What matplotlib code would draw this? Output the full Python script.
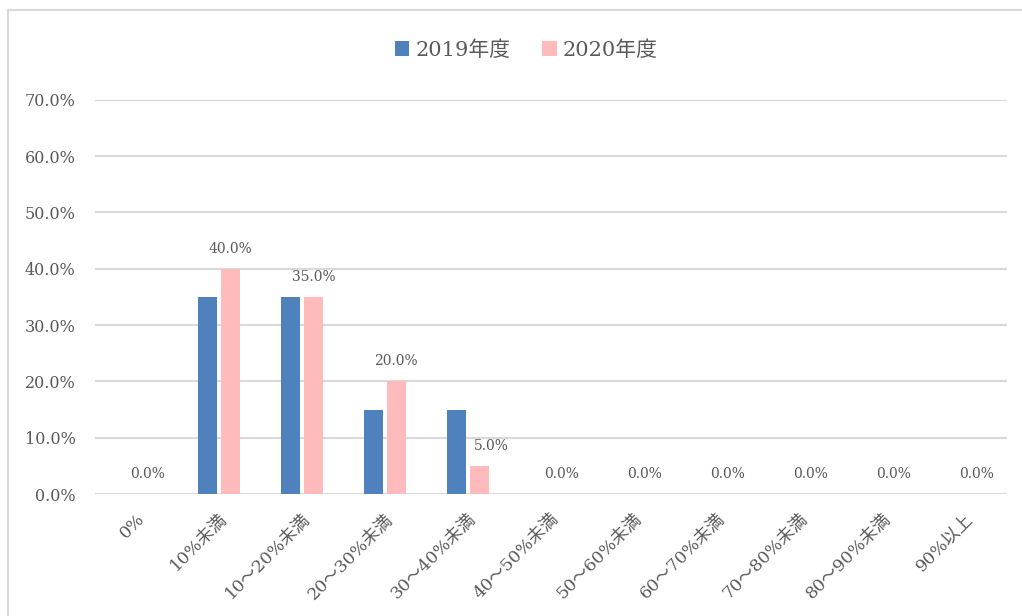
import matplotlib.pyplot as plt
import matplotlib.transforms as mtransforms
import numpy

plt.rcParams['font.family'] = ['DejaVu Serif', 'Noto Sans CJK JP']

# Data
categories = ['0%', '10%未満', '10～20%未満', '20～30%未満', '30～40%未満',
              '40～50%未満', '50～60%未満', '60～70%未満', '70～80%未満',
              '80～90%未満', '90%以上']
values_2019 = [0, 35, 35, 15, 15, 0, 0, 0, 0, 0, 0]
values_2020 = [0, 40, 35, 20, 5, 0, 0, 0, 0, 0, 0]
series_names = ['2019年度', '2020年度']
yticks = [0, 10, 20, 30, 40, 50, 60, 70]

textColor = '#595959'
gridColor = '#D9D9D9'

fig = plt.figure(figsize = (10.22, 6.16), dpi = 100)
ax = fig.add_axes([0.093, 0.198, 0.892, 0.64])

x = numpy.arange(len(categories))
width = 0.23
ax.bar(x - 0.14, values_2019, width = width, color = '#4F81BD', label = series_names[0], zorder = 3)
bars2 = ax.bar(x + 0.135, values_2020, width = width, color = '#FFBBBB', label = series_names[1], zorder = 3)

for i, (rect, v) in enumerate(zip(bars2, values_2020)):
    # label nudged right when the neighbouring 2019 bar is much taller (as Excel did)
    dx = 9 if values_2019[i] - v > 5 else 0
    ax.annotate('{:.1f}%'.format(v), (rect.get_x() + rect.get_width() / 2, v),
                xytext = (dx, 9.5), textcoords = 'offset points', ha = 'center', va = 'bottom',
                fontsize = 10, color = textColor)

ax.set_xlim(-0.5, len(categories) - 0.5)
ax.set_ylim(0, 70)
ax.set_yticks(yticks)
ax.set_yticklabels(['{:.1f}%'.format(t) for t in yticks], fontsize = 11.5, color = textColor)
ax.set_xticks(x)
ax.set_xticklabels(categories, rotation = 45, ha = 'right', rotation_mode = 'anchor',
                   fontsize = 12.5, color = textColor)
shift = mtransforms.ScaledTranslation(-6/72, 0, fig.dpi_scale_trans)
for lbl in ax.get_xticklabels():
    lbl.set_transform(lbl.get_transform() + shift)
ax.tick_params(axis = 'both', length = 0)
ax.tick_params(axis = 'y', pad = 14)
ax.tick_params(axis = 'x', pad = 12)
ax.grid(axis = 'y', color = gridColor, linewidth = 1.5, zorder = 0)
for s in ax.spines.values():
    s.set_visible(False)

leg = fig.legend(loc = 'upper center', bbox_to_anchor = (0.515, 0.965), ncol = 2, frameon = False,
                 fontsize = 15, handlelength = 0.7, handleheight = 0.7, handletextpad = 0.3,
                 columnspacing = 1.5)
for t in leg.get_texts():
    t.set_color(textColor)

# Outer chart frame (left and top edges visible)
fig.add_artist(plt.Line2D([8/1022, 8/1022], [0, 1 - 10/616], color = gridColor, linewidth = 1.5))
fig.add_artist(plt.Line2D([8/1022, 1], [1 - 10/616, 1 - 10/616], color = gridColor, linewidth = 1.5))

fig.savefig('out.png', dpi = 100)
